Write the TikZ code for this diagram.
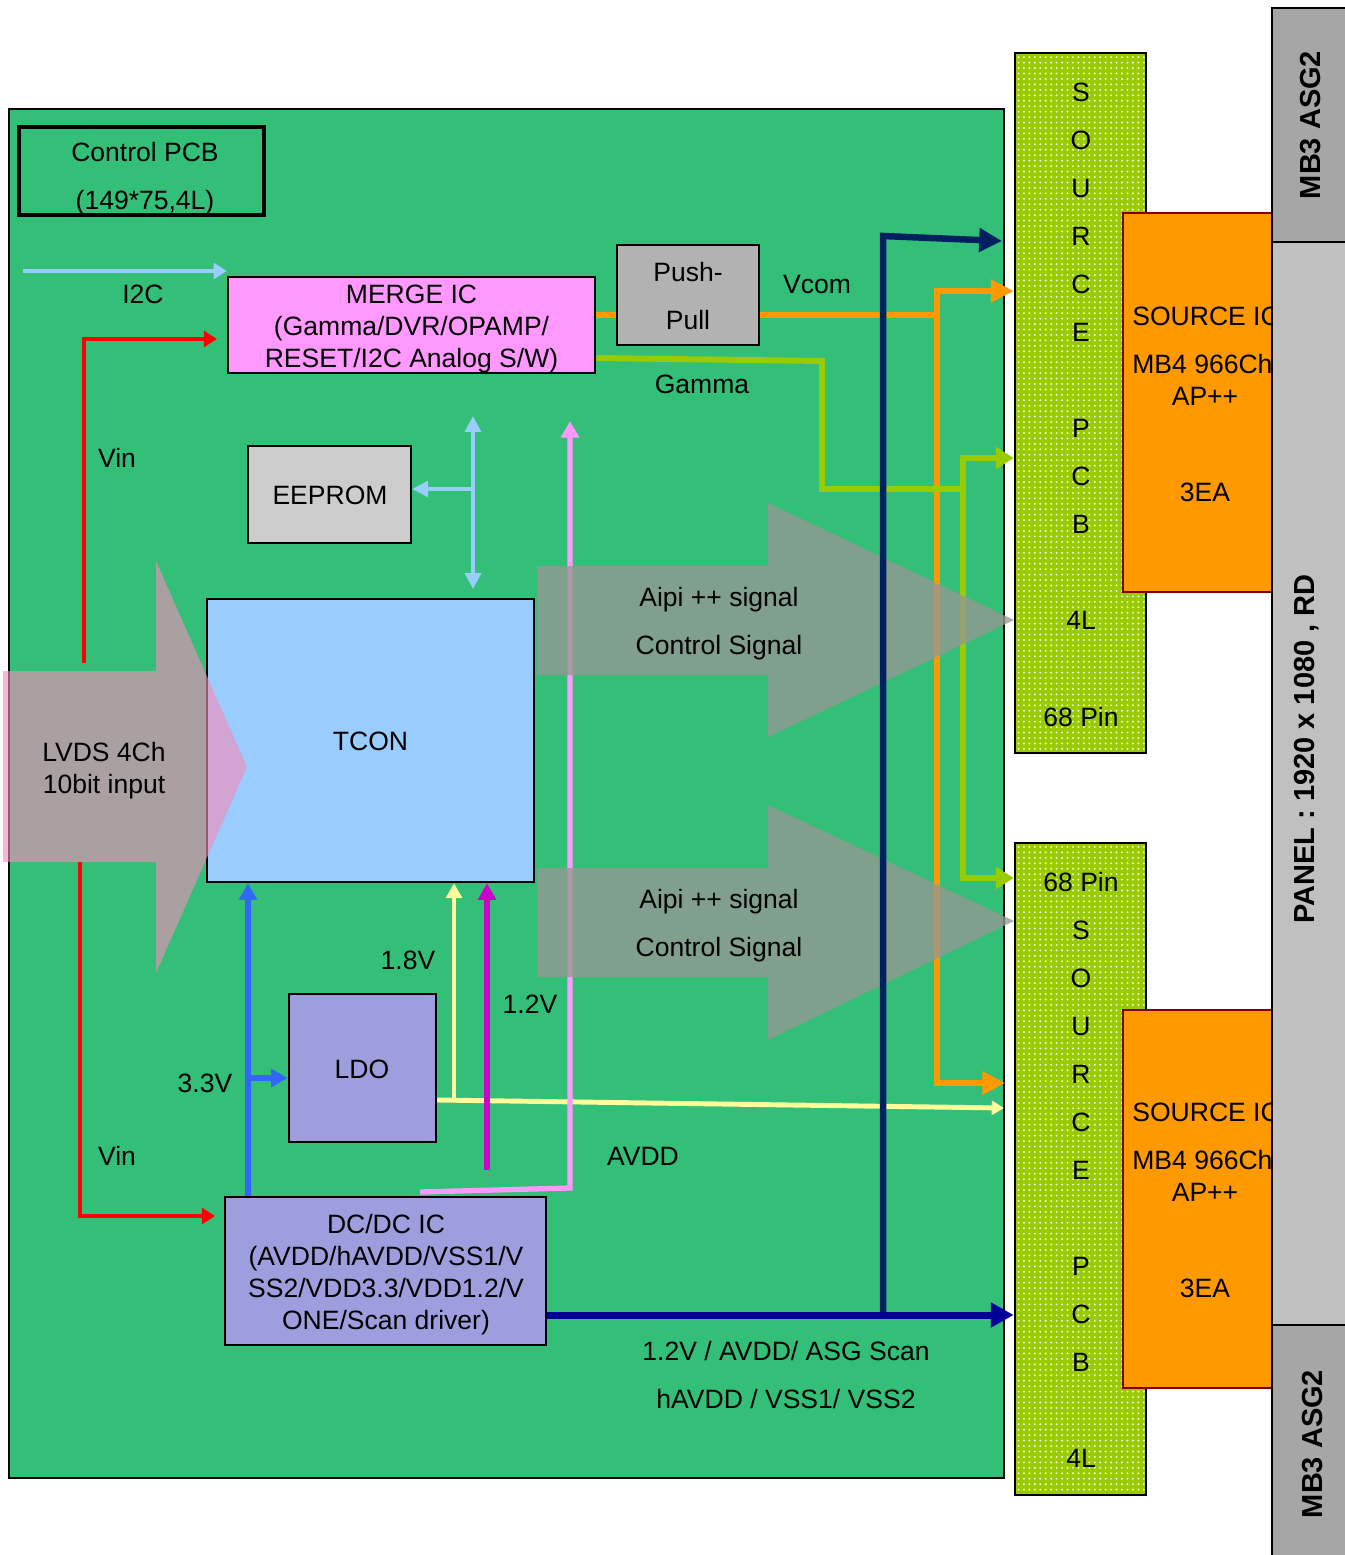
\documentclass[tikz,border=0pt]{standalone}
\usepackage{fontspec}
\setmainfont{Liberation Sans}
\usetikzlibrary{arrows.meta,fit,patterns}
\pgfdeclarepatternformonly{srcdots}{\pgfpoint{-1pt}{-1pt}}{\pgfpoint{2pt}{2pt}}{\pgfpoint{3.1pt}{3.1pt}}{\pgfpathcircle{\pgfpointorigin}{0.62pt}\pgfusepath{fill}}
\newcommand\myfs{\fontsize{15.1pt}{17pt}\selectfont}
\newcommand\myfb{\fontsize{16.5pt}{19pt}\selectfont\bfseries}
\definecolor{pcbgreen}{RGB}{51,191,119}
\definecolor{mergepink}{HTML}{FF99FF}
\definecolor{ppgray}{HTML}{B2B2B2}
\definecolor{eegray}{HTML}{CCCCCC}
\definecolor{tconblue}{HTML}{99CCFF}
\definecolor{ldoblue}{RGB}{158,158,222}
\definecolor{srcgreen}{HTML}{99CC00}
\definecolor{icorange}{HTML}{FF9900}
\definecolor{icborder}{HTML}{800000}
\definecolor{asggray}{HTML}{A6A6A6}
\definecolor{panelgray}{HTML}{C0C0C0}
\definecolor{lblue}{HTML}{99CCFF}
\definecolor{vinred}{HTML}{FF0000}
\definecolor{orng}{HTML}{FF9900}
\definecolor{gamgreen}{HTML}{99CC00}
\definecolor{navyl}{HTML}{002060}
\definecolor{dkblue}{HTML}{000099}
\definecolor{blue33}{HTML}{3366FF}
\definecolor{yel}{HTML}{FFFF99}
\definecolor{mag}{HTML}{CC00CC}
\definecolor{pinkl}{HTML}{FF99FF}
\definecolor{lvdsfill}{RGB}{244,141,187}
\definecolor{aipifill}{RGB}{151,151,147}
\begin{document}
\begin{tikzpicture}[x=0.02cm,y=-0.02cm,
  box/.style={draw=black,line width=1.4pt,inner sep=0pt},
  srcbox/.style={draw=black,line width=1.5pt,inner sep=0pt,preaction={fill=srcgreen},pattern=srcdots,pattern color=white!90!srcgreen},
  icbox/.style={draw=icborder,line width=1.2pt,inner sep=0pt,fill=icorange},
  lbl/.style={inner sep=0pt,text height=10.8pt,text depth=0pt,font=\myfs},
  vlbl/.style={inner sep=0pt,text height=11.8pt,text depth=0pt,font=\myfb,rotate=90},
  tipS/.style={-{Triangle[length=7.5pt,width=9pt]}},
  tipM/.style={-{Triangle[length=9.5pt,width=10pt]}},
  tipMM/.style={{Triangle[length=9pt,width=9pt]}-{Triangle[length=9pt,width=9pt]}},
  tipL/.style={-{Triangle[length=13pt,width=13pt]}},
  tipLL/.style={{Triangle[length=13pt,width=12.5pt]}-{Triangle[length=13pt,width=12.5pt]}},
  tipGG/.style={{Triangle[length=10pt,width=12pt]}-{Triangle[length=10pt,width=12pt]}},
  bigarrowA/.style={fill=lvdsfill,fill opacity=0.62},
  bigarrowB/.style={fill=aipifill,fill opacity=0.79}
]
\fill[white] (0,0) rectangle (1345,1555);
\useasboundingbox (0,0) rectangle (1345,1555);

% boxes
\node[box,fill=pcbgreen,line width=1.5pt,fit={(9,109) (1004,1478)}] (pcb) {};
\node[box,line width=2.3pt,fit={(19,127) (264,215)}] (ctrl) {};
\node[box,fill=mergepink,fit={(228,277) (595,373)}] (merge) {};
\node[box,fill=ppgray,fit={(617,245) (759,345)}] (push) {};
\node[box,fill=eegray,fit={(248,446) (411,543)}] (eeprom) {};
\node[box,fill=tconblue,fit={(207,599) (534,882)}] (tcon) {};
\node[box,fill=ldoblue,fit={(289,994) (436,1142)}] (ldo) {};
\node[box,fill=ldoblue,fit={(225,1197) (546,1345)}] (dcdc) {};
\node[srcbox,fit={(1015,53) (1146,753)}] (src1) {};
\node[srcbox,fit={(1015,843) (1146,1495)}] (src2) {};
\node[icbox,fit={(1123,213) (1272,592)}] (ic1) {};
\node[icbox,fit={(1123,1010) (1272,1388)}] (ic2) {};

% source IC texts (clipped by panel drawn afterwards)
\node[lbl,anchor=west] (ic1a) at (1132,316) {SOURCE IC};
\node[lbl,anchor=west] (ic1b) at (1132,364) {MB4 966Ch};
\node[lbl] (ic1c) at (1205,396) {AP++};
\node[lbl] (ic1d) at (1205,492) {3EA};
\node[lbl,anchor=west] (ic2a) at (1132,1112) {SOURCE IC};
\node[lbl,anchor=west] (ic2b) at (1132,1160) {MB4 966Ch};
\node[lbl] (ic2c) at (1205,1192) {AP++};
\node[lbl] (ic2d) at (1205,1288) {3EA};

\node[box,fill=asggray,fit={(1272,8) (1347,242)}] (asg1) {};
\node[box,fill=panelgray,fit={(1272,242) (1347,1325)}] (panel) {};
\node[box,fill=asggray,fit={(1272,1325) (1347,1557)}] (asg2) {};

% coordinates
\coordinate (i2cs) at (23,271);
\coordinate (v1a) at (84,663);
\coordinate (v1b) at (84,339);
\coordinate (v1c) at (217,339);
\coordinate (v2a) at (80,862);
\coordinate (v2b) at (80,1216);
\coordinate (v2c) at (215,1216);
\coordinate (o1) at (937,315);
\coordinate (o2) at (937,291);
\coordinate (o3) at (937,1083);
\coordinate (g0) at (595,358);
\coordinate (g1) at (822,361);
\coordinate (g2) at (822,489);
\coordinate (g3) at (963,489);
\coordinate (g4) at (963,458);
\coordinate (g5) at (963,878);
\coordinate (p0) at (420,1192);
\coordinate (p1) at (570,1188);
\coordinate (p2) at (570,421);
\coordinate (e1) at (473,416);
\coordinate (e2) at (473,589);
\coordinate (e3) at (473,489);
\coordinate (b33) at (248,1078);
\coordinate (y1) at (454,1100);
\coordinate (yend) at (1004,1108);
\coordinate (m1) at (487,1170);
\coordinate (n0) at (883,1315);
\coordinate (n1) at (883,236);
\coordinate (n2) at (1002,241);

% connectors
\draw[lblue,line width=2pt,tipS] (i2cs) -- (merge.north west |- i2cs);
\draw[vinred,line width=2.3pt,tipS] (v1a) -- (v1b) -- (v1c);
\draw[vinred,line width=2.3pt,tipS] (v2a) -- (v2b) -- (v2c);
\draw[orng,line width=3.4pt] (merge.east |- o1) -- (push.west |- o1);
\draw[orng,line width=3.4pt] (push.east |- o1) -- (o1);
\draw[orng,line width=3.4pt,tipLL] (src1.west |- o2) -- (o2) -- (o3) -- (o3 -| pcb.east);
\draw[gamgreen,line width=3.4pt] (merge.east |- g0) -- (g1) -- (g2) -- (g3);
\draw[gamgreen,line width=3.4pt,tipGG] (src1.west |- g4) -- (g4) -- (g5) -- (src2.west |- g5);
\draw[lblue,line width=1.8pt,tipMM] (e1) -- (e2);
\draw[lblue,line width=1.8pt,-{Triangle[length=9pt,width=9pt]}] (e3) -- (e3 -| eeprom.east);
\draw[blue33,line width=3.4pt,tipM] (b33 |- dcdc.north) -- (b33 |- tcon.south);
\draw[blue33,line width=3.4pt,tipM] (b33) -- (b33 -| ldo.west);
\draw[yel,line width=2.8pt,-{Triangle[length=7pt,width=8pt]}] (ldo.east |- y1) -- (yend);
\draw[yel,line width=2.8pt,-{Triangle[length=8.5pt,width=9pt]}] (y1) -- (y1 |- tcon.south);
\draw[mag,line width=3.1pt,tipM] (m1) -- (m1 |- tcon.south);
\draw[pinkl,line width=3pt,tipM] (p0) -- (p1) -- (p2);

% big arrows
\fill[bigarrowA] (3,671) -- (156,671) -- (156,561) -- (247,767) -- (156,973) -- (156,862) -- (3,862) -- cycle;
\fill[bigarrowB] (537,566) -- (768,566) -- (768,503) -- (1014,620) -- (768,737) -- (768,675) -- (537,675) -- cycle;
\fill[bigarrowB] (537,868) -- (768,868) -- (768,805) -- (1014,921) -- (768,1040) -- (768,977) -- (537,977) -- cycle;

% navy lines
\draw[navyl,line width=3.7pt,tipL] (n0) -- (n1) -- (n2);
\draw[dkblue,line width=4pt,-{Triangle[length=13pt,width=13.5pt]}] (dcdc.east |- n0) -- (src2.west |- n0);

% texts
\node[lbl] (tctrl1) at (145,152) {Control PCB};
\node[lbl] (tctrl2) at (145,200) {(149*75,4L)};
\node[lbl] (ti2c) at (143,294) {I2C};
\node[lbl] (tm1) at (411.5,294) {MERGE IC};
\node[lbl] (tm2) at (411.5,326) {(Gamma/DVR/OPAMP/};
\node[lbl] (tm3) at (411.5,358) {RESET/I2C Analog S/W)};
\node[lbl] (tp1) at (688,272) {Push-};
\node[lbl] (tp2) at (688,320) {Pull};
\node[lbl] (tvcom) at (817,284) {Vcom};
\node[lbl] (tgam) at (702,384) {Gamma};
\node[lbl] (tvin1) at (117,458) {Vin};
\node[lbl] (tee) at (330,495) {EEPROM};
\node[lbl] (ta1) at (719,597) {Aipi ++ signal};
\node[lbl] (ta2) at (719,645) {Control Signal};
\node[lbl] (ta3) at (719,899) {Aipi ++ signal};
\node[lbl] (ta4) at (719,947) {Control Signal};
\node[lbl] (tlv1) at (104,752) {LVDS 4Ch};
\node[lbl] (tlv2) at (104,784) {10bit input};
\node[lbl] (ttcon) at (370.5,741) {TCON};
\node[lbl] (t18) at (408,960) {1.8V};
\node[lbl] (t12) at (530,1004) {1.2V};
\node[lbl] (tldo) at (362,1069) {LDO};
\node[lbl] (t33) at (205,1083) {3.3V};
\node[lbl] (tvin2) at (117,1156) {Vin};
\node[lbl] (tavdd) at (643,1156) {AVDD};
\node[lbl] (td1) at (386,1224) {DC/DC IC};
\node[lbl] (td2) at (386,1256) {(AVDD/hAVDD/VSS1/V};
\node[lbl] (td3) at (386,1288) {SS2/VDD3.3/VDD1.2/V};
\node[lbl] (td4) at (386,1320) {ONE/Scan driver)};
\node[lbl] (tb1) at (786,1351) {1.2V / AVDD/ ASG Scan};
\node[lbl] (tb2) at (786,1399) {hAVDD / VSS1/ VSS2};

\foreach \t/\y in {S/92,O/140,U/188,R/236,C/284,E/332,P/428,C/476,B/524,4L/620,68 Pin/717}
  \node[lbl] (sa\y) at (1081,\y) {\t};
\foreach \t/\y in {68 Pin/882,S/930,O/978,U/1026,R/1074,C/1122,E/1170,P/1266,C/1314,B/1362,4L/1458}
  \node[lbl] (sb\y) at (1081,\y) {\t};

\node[vlbl] (tasg1) at (1310,125) {MB3 ASG2};
\node[vlbl] (tpanel) at (1304,749) {PANEL : 1920 x 1080 , RD};
\node[vlbl] (tasg2) at (1312,1444) {MB3 ASG2};
\end{tikzpicture}
\end{document}
